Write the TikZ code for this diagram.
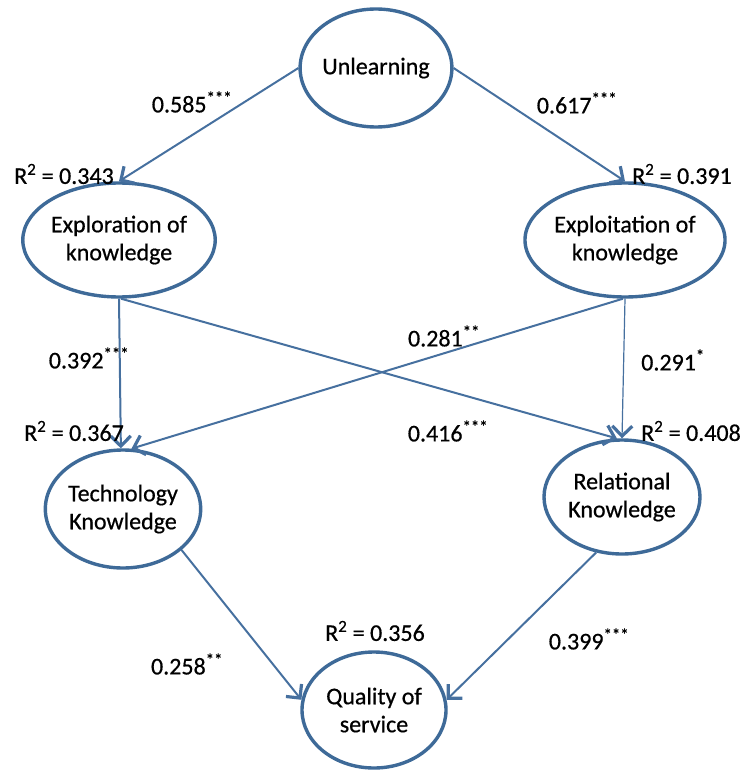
\documentclass[tikz,border=0pt]{standalone}
\usepackage{fontspec}
\setmainfont{Carlito}[FakeBold=0.6]
\usetikzlibrary{shapes.geometric,arrows.meta}
\definecolor{ovalblue}{HTML}{3E6A98}
\definecolor{pathblue}{HTML}{46709F}
\tikzset{
  construct/.style={ellipse, draw=ovalblue, line width=3.4pt, fill=white, align=center,
    inner sep=0pt, font=\fontsize{24}{28}\selectfont},
  path/.style={draw=pathblue, line width=2pt, -{Straight Barb[length=10pt,width=20pt,line width=3.2pt]}},
  coef/.style={font=\fontsize{24}{28}\selectfont, inner sep=1pt}
}
\begin{document}
\begin{tikzpicture}[x=1pt,y=-1pt]
			\useasboundingbox (0,0) rectangle (746,770);
			\node[construct, minimum width=142pt, minimum height=118pt](unl) at (376,68){Unlearning};
			\node[construct, minimum width=162pt, minimum height=114pt](expr) at (119,240){Exploration of\\knowledge};
			\node[construct, minimum width=160pt, minimum height=114pt](expt) at (625,240){Exploitation of\\knowledge};
			\node[construct, minimum width=150pt, minimum height=118pt](tech) at (123,509){Technology\\Knowledge};
			\node[construct, minimum width=156pt, minimum height=114pt](rel) at (622,497){Relational\\Knowledge};
			\node[construct, minimum width=144pt, minimum height=116pt](qual) at (374,710){Quality of\\service};
			\draw[path] (unl.west) -- (expr.north);
			\draw[path] (unl.east) -- (expt.north);
			\draw[path] (expr.south) -- (tech.92);
			\draw[path] (expr.-88) -- (rel.95);
			\draw[path] (expt.-92) -- (tech.82);
			\draw[path, line width=1.2pt] (expt.south) -- (rel.north);
			\draw[path] (tech.-35) -- (qual.172);
			\draw[path] (rel.-115) -- (qual.8);
			\node[coef](c1) at (192,102){0.585\textsuperscript{***}};
			\node[coef](c2) at (577,103){0.617\textsuperscript{***}};
			\node[coef](r1) at (64,174){R\textsuperscript{2} = 0.343};
			\node[coef](r2) at (682,174){R\textsuperscript{2} = 0.391};
			\node[coef](c3) at (89,358){0.392\textsuperscript{***}};
			\node[coef](c4) at (444,336){0.281\textsuperscript{**}};
			\node[coef](c5) at (673,360){0.291\textsuperscript{*}};
			\node[coef](r3) at (74,431){R\textsuperscript{2} = 0.367};
			\node[coef](c6) at (448,431){0.416\textsuperscript{***}};
			\node[coef](r4) at (691,431){R\textsuperscript{2} = 0.408};
			\node[coef](r5) at (375,631){R\textsuperscript{2} = 0.356};
			\node[coef](c7) at (187,664){0.258\textsuperscript{**}};
			\node[coef](c8) at (589,639){0.399\textsuperscript{***}};
			\end{tikzpicture}
\end{document}
